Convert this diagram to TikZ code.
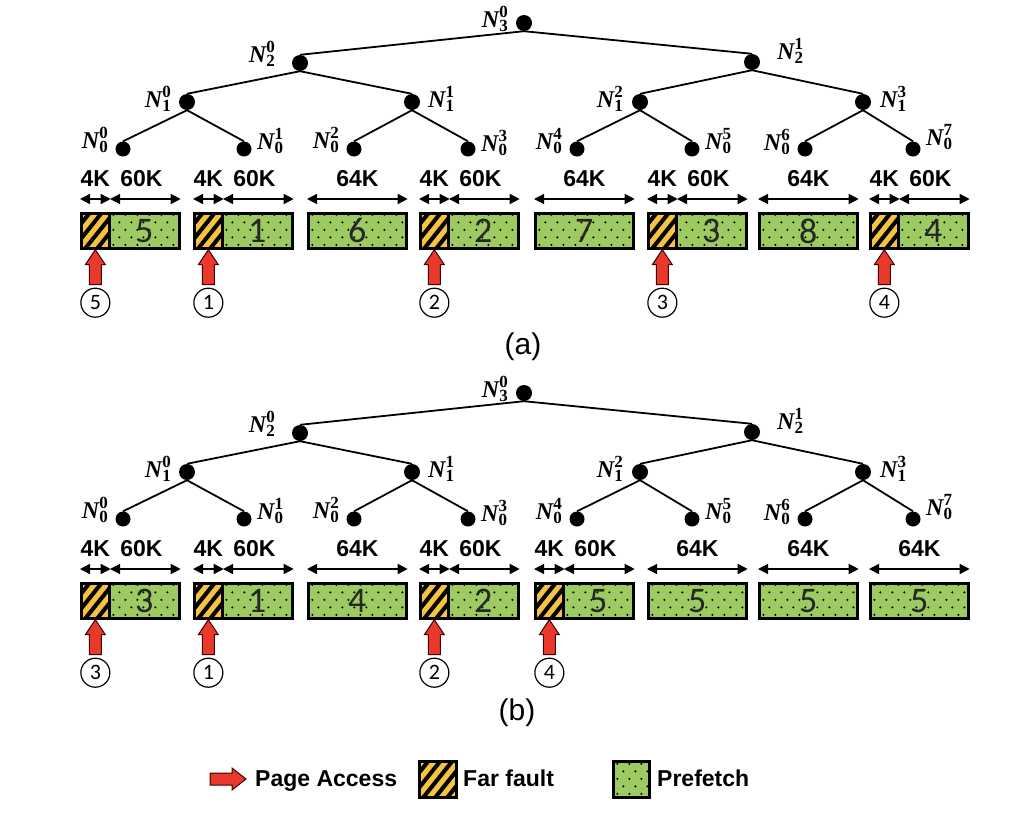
\documentclass[tikz,border=0pt]{standalone}
\usepackage{fontspec}
\setmainfont{Liberation Sans}
\newfontfamily\calfont{Carlito}
\newfontfamily\nserif{Liberation Serif}
\usetikzlibrary{arrows.meta}
\definecolor{hatchor}{HTML}{F5C242}
\definecolor{dotgreen}{HTML}{9DCB62}
\definecolor{accred}{HTML}{E8392A}
\newcommand{\NN}[2]{{\nserif\bfseries\fontsize{24}{24}\selectfont\itshape N\upshape\fontsize{17}{17}\selectfont\makebox[0pt][l]{\raisebox{10pt}{#2}}\raisebox{-4pt}{#1}}}
\tikzset{
  dot/.style={circle, fill=black, inner sep=0, minimum size=16pt},
  leaf/.style={dot, minimum size=15pt},
  edge/.style={line width=1.8pt},
  nlab/.style={inner sep=0},
  hatchbox/.style={draw, line width=2.7pt, fill=hatchor, inner sep=0, minimum height=35pt, anchor=north west,
    path picture={\foreach \k in {-44,-32,...,44}{\draw[line width=4pt] ([xshift=\k pt]path picture bounding box.south west) -- ++(48pt,60pt);}}},
  dotbox/.style={draw, line width=2.7pt, fill=dotgreen, inner sep=0, minimum height=35pt, anchor=north west,
    font=\calfont\fontsize{36}{36}\selectfont, text=black!85,
    path picture={\foreach \j in {0,...,5}{\foreach \i in {0,...,8}{\pgfmathsetmacro\xx{4+12*\i+6*mod(\j,2)}\pgfmathsetmacro\yy{3.5+7.5*\j}\fill[black] ([xshift=\xx pt,yshift=\yy pt]path picture bounding box.south west) circle (1.15pt);}}}},
  dim/.style={line width=1.5pt, {Triangle[length=10pt,width=10pt]}-{Triangle[length=10pt,width=10pt]}},
  sz/.style={font=\bfseries\fontsize{23}{23}\selectfont, inner sep=0},
  pacc/.style={fill=accred, draw=black!75!red, line width=1pt, line join=miter},
  cnum/.style={circle, draw, line width=1.2pt, minimum size=29pt, inner sep=0, font=\calfont\fontsize{22}{22}\selectfont},
  legt/.style={font=\bfseries\fontsize{23}{23}\selectfont, inner sep=0},
  captxt/.style={font=\fontsize{30}{30}\selectfont, inner sep=0}
}
\newcommand{\splitblk}[3]{%
  \node[hatchbox, minimum width=28pt] (#1h) at (#2,212) {};
  \node[dotbox, minimum width=70pt] (#1g) at (#2+28,212) {#3};
  \draw[dim] ([yshift=13pt]#1h.north west) -- ([yshift=13pt]#1h.north east);
  \draw[dim] ([yshift=13pt,xshift=2pt]#1g.north west) -- ([yshift=13pt]#1g.north east);
  \node[sz] (#1k) at ([yshift=33pt]#1h.north) {4K};
  \node[sz] (#1m) at ([yshift=33pt,xshift=-3pt]#1g.north) {60K};
}
\newcommand{\fullblk}[3]{%
  \node[dotbox, minimum width=98pt] (#1g) at (#2,212) {#3};
  \draw[dim] ([yshift=13pt]#1g.north west) -- ([yshift=13pt]#1g.north east);
  \node[sz] (#1m) at ([yshift=33pt]#1g.north) {64K};
}
\newcommand{\access}[2]{%
  \draw[pacc] (#1h.south) -- ++(10pt,-15pt) -- ++(-4pt,0pt) -- ++(0pt,-20pt) -- ++(-12pt,0pt) -- ++(0pt,20pt) -- ++(-4pt,0pt) -- cycle;
  \node[cnum] (#1c) at ([yshift=-53pt]#1h.south) {#2};
}
\newcommand{\tree}[1]{%
  \node[dot] (#1n30) at (524,23) {};
  \node[dot] (#1n20) at (300,63) {};
  \node[dot] (#1n21) at (752,62) {};
  \node[dot] (#1n10) at (187,102) {};
  \node[dot] (#1n11) at (412,102) {};
  \node[dot] (#1n12) at (640,102) {};
  \node[dot] (#1n13) at (863,102) {};
  \node[leaf] (#1n00) at (123,149) {};
  \node[leaf] (#1n01) at (244,149) {};
  \node[leaf] (#1n02) at (354,149) {};
  \node[leaf] (#1n03) at (468,149) {};
  \node[leaf] (#1n04) at (577,149) {};
  \node[leaf] (#1n05) at (692,149) {};
  \node[leaf] (#1n06) at (805,149) {};
  \node[leaf] (#1n07) at (913,149) {};
  \draw[edge] (#1n30.south) -- (#1n20.north);
  \draw[edge] (#1n30.south) -- (#1n21.north);
  \draw[edge] (#1n20.south) -- (#1n10.north);
  \draw[edge] (#1n20.south) -- (#1n11.north);
  \draw[edge] (#1n21.south) -- (#1n12.north);
  \draw[edge] (#1n21.south) -- (#1n13.north);
  \draw[edge] (#1n10.south) -- (#1n00.north);
  \draw[edge] (#1n10.south) -- (#1n01.north);
  \draw[edge] (#1n11.south) -- (#1n02.north);
  \draw[edge] (#1n11.south) -- (#1n03.north);
  \draw[edge] (#1n12.south) -- (#1n04.north);
  \draw[edge] (#1n12.south) -- (#1n05.north);
  \draw[edge] (#1n13.south) -- (#1n06.north);
  \draw[edge] (#1n13.south) -- (#1n07.north);
  \node[nlab, anchor=base east] (#1l30) at ([xshift=-16pt,yshift=-4pt]#1n30.center) {\NN{3}{0}};
  \node[nlab, anchor=base east] (#1l20) at ([xshift=-25pt,yshift=1pt]#1n20.center) {\NN{2}{0}};
  \node[nlab, anchor=base west] (#1l21) at ([xshift=25pt,yshift=3pt]#1n21.center) {\NN{2}{1}};
  \node[nlab, anchor=base east] (#1l10) at ([xshift=-16pt,yshift=-5pt]#1n10.center) {\NN{1}{0}};
  \node[nlab, anchor=base west] (#1l11) at ([xshift=16pt,yshift=-5pt]#1n11.center) {\NN{1}{1}};
  \node[nlab, anchor=base east] (#1l12) at ([xshift=-17pt,yshift=-5pt]#1n12.center) {\NN{1}{2}};
  \node[nlab, anchor=base west] (#1l13) at ([xshift=17pt,yshift=-5pt]#1n13.center) {\NN{1}{3}};
  \node[nlab, anchor=base east] (#1l00) at ([xshift=-15pt,yshift=1pt]#1n00.center) {\NN{0}{0}};
  \node[nlab, anchor=base west] (#1l01) at ([xshift=13pt,yshift=0pt]#1n01.center) {\NN{0}{1}};
  \node[nlab, anchor=base east] (#1l02) at ([xshift=-15pt,yshift=1pt]#1n02.center) {\NN{0}{2}};
  \node[nlab, anchor=base west] (#1l03) at ([xshift=13pt,yshift=-2pt]#1n03.center) {\NN{0}{3}};
  \node[nlab, anchor=base east] (#1l04) at ([xshift=-15pt,yshift=0pt]#1n04.center) {\NN{0}{4}};
  \node[nlab, anchor=base west] (#1l05) at ([xshift=13pt,yshift=0pt]#1n05.center) {\NN{0}{5}};
  \node[nlab, anchor=base east] (#1l06) at ([xshift=-15pt,yshift=-1pt]#1n06.center) {\NN{0}{6}};
  \node[nlab, anchor=base west] (#1l07) at ([xshift=13pt,yshift=4pt]#1n07.center) {\NN{0}{7}};
}
\begin{document}
\begin{tikzpicture}[x=1pt,y=-1pt]
\fill[white] (0,0) rectangle (1024,838);
\useasboundingbox (0,0) rectangle (1024,838);
% panel (a)
\tree{a}
\splitblk{a1}{80}{5}\access{a1}{5}
\splitblk{a2}{193}{1}\access{a2}{1}
\fullblk{a3}{307}{6}
\splitblk{a4}{419}{2}\access{a4}{2}
\fullblk{a5}{534}{7}
\splitblk{a6}{647}{3}\access{a6}{3}
\fullblk{a7}{758}{8}
\splitblk{a8}{869}{4}\access{a8}{4}
\node[captxt] (capa) at (523,347) {(a)};
% panel (b)
\begin{scope}[yshift=-370pt]
\tree{b}
\splitblk{b1}{80}{3}\access{b1}{3}
\splitblk{b2}{193}{1}\access{b2}{1}
\fullblk{b3}{307}{4}
\splitblk{b4}{419}{2}\access{b4}{2}
\splitblk{b5}{534}{5}\access{b5}{4}
\fullblk{b6}{647}{5}
\fullblk{b7}{758}{5}
\fullblk{b8}{869}{5}
\end{scope}
\node[captxt] (capb) at (517,713) {(b)};
% legend
\coordinate (legA) at (210,779);
\draw[pacc] (legA) ++(0pt,6pt) -- ++(22pt,0pt) -- ++(0pt,5pt) -- ++(14pt,-11pt) -- ++(-14pt,-11pt) -- ++(0pt,5pt) -- ++(-22pt,0pt) -- cycle;
\node[legt, anchor=base west] (lt1) at (255,786) {Page Access};
\node[hatchbox, minimum width=37pt, minimum height=36pt] (lh) at (418,760) {};
\node[legt, anchor=base west] (lt2) at (463,786) {Far fault};
\node[dotbox, minimum width=36pt, minimum height=36pt] (lg) at (612,760) {};
\node[legt, anchor=base west] (lt3) at (657,786) {Prefetch};
\end{tikzpicture}
\end{document}
